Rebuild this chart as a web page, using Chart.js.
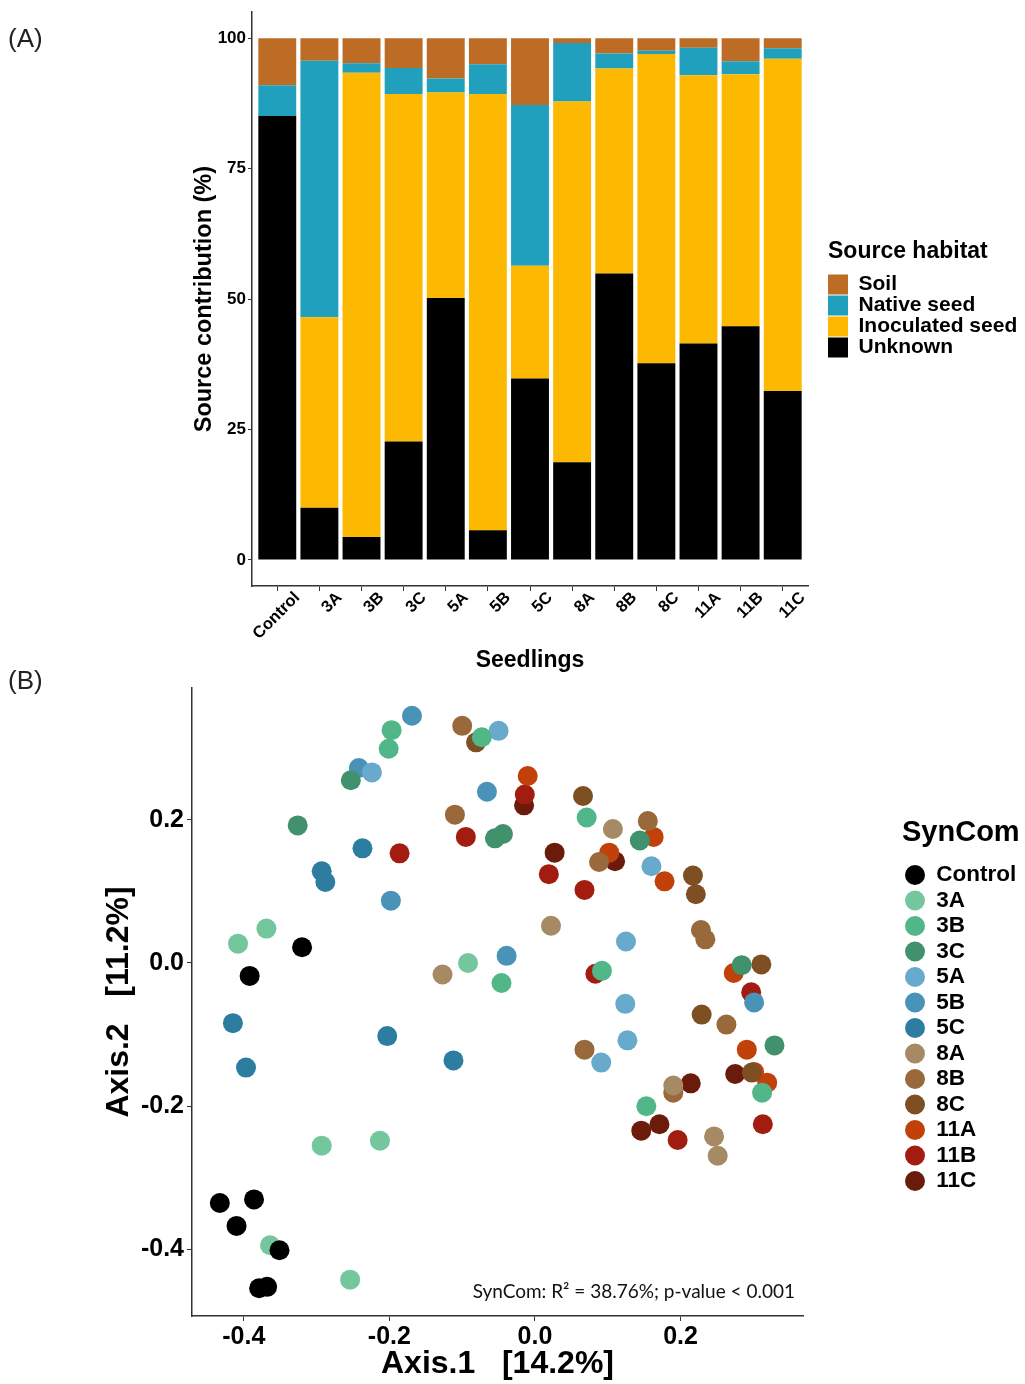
<!DOCTYPE html>
<html>
<head>
<meta charset="utf-8">
<script src="https://cdn.jsdelivr.net/npm/chart.js@4.4.1/dist/chart.umd.min.js"></script>
<style>
html,body{margin:0;padding:0;background:#fff;}
body{width:1025px;height:1384px;position:relative;overflow:hidden;font-family:"Liberation Sans",Arial,sans-serif;}
.wrap{position:absolute;left:0;width:1025px;}
#wrapA{top:0;height:680px;}
#wrapB{top:660px;height:724px;}
.panel-label{position:absolute;left:8px;font-size:26px;line-height:26px;color:#222;font-family:"Liberation Sans",Arial,sans-serif;}
</style>
</head>
<body>
<div class="wrap" id="wrapA"><canvas id="chartA" width="1025" height="680"></canvas></div>
<div class="wrap" id="wrapB"><canvas id="chartB" width="1025" height="724"></canvas></div>
<div class="panel-label" style="top:25px">(A)</div>
<div class="panel-label" style="top:667px">(B)</div>
<script>
// ---------- Panel A data ----------
const seedlings  = ['Control','3A','3B','3C','5A','5B','5C','8A','8B','8C','11A','11B','11C'];
const unknown    = [85.1,10.0, 4.4,22.7,50.2, 5.7,34.8,18.7,54.9,37.7,41.5,44.8,32.4];
const inoculated = [ 0.0,36.5,89.0,66.6,39.4,83.6,21.6,69.2,39.3,59.3,51.4,48.3,63.7];
const nativeSeed = [ 5.9,49.2, 1.8, 5.0, 2.7, 5.7,30.8,11.2, 2.9, 0.6, 5.3, 2.5, 2.0];
const soil       = [ 9.0, 4.3, 4.8, 5.7, 7.7, 5.0,12.8, 0.9, 2.9, 2.4, 1.8, 4.4, 1.9];
const yTicksA    = [0,25,50,75,100];

// ---------- Panel B data (Axis.1, Axis.2) ----------
const groups = ['Control','3A','3B','3C','5A','5B','5C','8A','8B','8C','11A','11B','11C'];
const groupColors = ['#000000','#74C69D','#52B788','#40916C','#67AACB','#4A93B8','#2C7DA0',
                     '#A68A64','#99683B','#7F4F24','#C2400A','#A21D10','#6A1B0C'];
const ptsControl = [[-0.320,0.022],[-0.392,-0.018],[-0.433,-0.335],[-0.386,-0.330],[-0.410,-0.367],[-0.351,-0.401],[-0.379,-0.454],[-0.368,-0.452]];
const pts3A  = [[-0.369,0.048],[-0.408,0.027],[-0.092,0.000],[-0.293,-0.255],[-0.213,-0.248],[-0.364,-0.394],[-0.254,-0.442]];
const pts3B  = [[-0.197,0.325],[-0.201,0.299],[-0.073,0.315],[0.071,0.203],[-0.046,-0.028],[0.092,-0.011],[0.312,-0.181],[0.153,-0.200]];
const pts3C  = [[-0.253,0.255],[-0.326,0.192],[-0.055,0.174],[-0.044,0.180],[0.144,0.171],[0.284,-0.003],[0.329,-0.115]];
const pts5A  = [[-0.224,0.266],[-0.050,0.324],[0.160,0.135],[0.125,0.030],[0.124,-0.057],[0.127,-0.108],[0.091,-0.139]];
const pts5B  = [[-0.169,0.345],[-0.242,0.272],[-0.066,0.239],[-0.198,0.087],[-0.039,0.010],[0.301,-0.055]];
const pts5C  = [[-0.237,0.160],[-0.293,0.128],[-0.288,0.113],[-0.415,-0.084],[-0.397,-0.146],[-0.203,-0.102],[-0.112,-0.136]];
const pts8A  = [[-0.127,-0.016],[0.107,0.187],[0.022,0.052],[0.190,-0.171],[0.246,-0.242],[0.251,-0.269]];
const pts8B  = [[-0.100,0.331],[-0.110,0.207],[0.155,0.198],[0.088,0.141],[0.228,0.046],[0.234,0.033],[0.263,-0.086],[0.068,-0.121],[0.190,-0.181]];
const pts8C  = [[-0.081,0.308],[0.066,0.233],[0.217,0.122],[0.221,0.096],[0.311,-0.002],[0.229,-0.072],[0.298,-0.153]];
const pts11A = [[-0.010,0.261],[0.163,0.176],[0.102,0.154],[0.178,0.114],[0.273,-0.014],[0.291,-0.121],[0.301,-0.152],[0.319,-0.167]];
const pts11B = [[-0.095,0.176],[-0.186,0.153],[-0.014,0.235],[0.019,0.124],[0.068,0.102],[0.083,-0.015],[0.297,-0.041],[0.196,-0.247],[0.313,-0.225]];
const pts11C = [[-0.015,0.220],[0.027,0.154],[0.110,0.142],[0.275,-0.155],[0.214,-0.168],[0.146,-0.234],[0.171,-0.225]];
const groupPoints = [ptsControl,pts3A,pts3B,pts3C,pts5A,pts5B,pts5C,pts8A,pts8B,pts8C,pts11A,pts11B,pts11C];
const xTicksB = [-0.4,-0.2,0.0,0.2];
const yTicksB = [-0.4,-0.2,0.0,0.2];
const statText = 'SynCom: R\u00B2 = 38.76%; p-value < 0.001';

// ---------- common ----------
const F = '"Liberation Sans", Arial, Helvetica, sans-serif';
Chart.defaults.font.family = F;
Chart.defaults.color = '#000';

const legendShift = {
  id: 'legendShift',
  afterLayout(chart, args, opts) {
    const lg = chart.legend;
    if (!lg || opts.left == null) return;
    lg.left = opts.left;
    lg.right = chart.width;
    lg.width = lg.right - lg.left;
  }
};

const statLabel = {
  id: 'statLabel',
  afterDatasetsDraw(chart, args, opts) {
    const {ctx, chartArea} = chart;
    ctx.save();
    ctx.font = '19px Lato, "Open Sans", sans-serif';
    ctx.fillStyle = '#111';
    ctx.textAlign = 'right';
    ctx.textBaseline = 'middle';
    ctx.fillText(opts.text, chartArea.right - 8, chartArea.bottom - 24);
    ctx.restore();
  }
};

const axisLine = {display: true, color: '#333', width: 1.5};

// ---------- Panel A ----------
new Chart(document.getElementById('chartA'), {
  type: 'bar',
  data: {
    datasets: [
      {label: 'Unknown',         data: unknown.map((v, i) => ({x: i, y: v})),    backgroundColor: '#000000'},
      {label: 'Inoculated seed', data: inoculated.map((v, i) => ({x: i, y: v})), backgroundColor: '#FDB801'},
      {label: 'Native seed',     data: nativeSeed.map((v, i) => ({x: i, y: v})), backgroundColor: '#21A0BE'},
      {label: 'Soil',            data: soil.map((v, i) => ({x: i, y: v})),       backgroundColor: '#BC6C25'}
    ]
  },
  options: {
    responsive: false, animation: false, devicePixelRatio: 1,
    layout: {padding: {left: 190, top: 10, right: 67, bottom: 0}},
    datasets: {bar: {barPercentage: 0.9, categoryPercentage: 1.0, borderWidth: 0}},
    scales: {
      x: {
        type: 'linear', stacked: true, min: -0.6, max: 12.6, offset: false,
        afterBuildTicks: s => { s.ticks = seedlings.map((_, i) => ({value: i})); },
        afterFit: s => { s.height = 94; },
        grid: {display: true, drawOnChartArea: false, drawTicks: true, tickLength: 5, color: '#333', offset: false},
        border: axisLine,
        ticks: {autoSkip: false, maxRotation: 45, minRotation: 45, padding: -3, labelOffset: 20, color: '#000',
                font: {family: F, size: 16.5, weight: 'bold'},
                callback: v => seedlings[v] !== undefined ? seedlings[v] : ''},
        title: {display: true, text: 'Seedlings', color: '#000',
                font: {family: F, size: 23, weight: 'bold'}, padding: {top: 0, bottom: 6}}
      },
      y: {
        type: 'linear', stacked: true, min: -5, max: 105,
        afterBuildTicks: s => { s.ticks = yTicksA.map(v => ({value: v})); },
        afterFit: s => { s.width = 62; },
        grid: {display: true, drawOnChartArea: false, drawTicks: true, tickLength: 4, color: '#333'},
        border: axisLine,
        ticks: {padding: 2, color: '#000', font: {family: F, size: 17, weight: 'bold'}},
        title: {display: true, text: 'Source contribution (%)', color: '#000',
                font: {family: F, size: 23.5, weight: 'bold'}, padding: {top: 0, bottom: 0}}
      }
    },
    plugins: {
      legend: {
        position: 'right', reverse: true, fullSize: false, maxWidth: 150, align: 'center',
        title: {display: true, text: 'Source habitat', position: 'start', color: '#000',
                font: {family: F, size: 23, weight: 'bold'}, padding: {top: 0, bottom: 6}},
        labels: {boxWidth: 20, boxHeight: 20, padding: 0, color: '#000',
                 font: {family: F, size: 21, weight: 'bold'}}
      },
      tooltip: {enabled: false},
      legendShift: {left: 828}
    }
  },
  plugins: [legendShift]
});

// ---------- Panel B ----------
new Chart(document.getElementById('chartB'), {
  type: 'scatter',
  data: {
    datasets: groups.map((g, i) => ({
      label: g,
      data: groupPoints[i].map(p => ({x: p[0], y: p[1]})),
      backgroundColor: groupColors[i],
      borderColor: groupColors[i],
      borderWidth: 0,
      pointRadius: 10,
      pointHoverRadius: 10
    }))
  },
  options: {
    responsive: false, animation: false, devicePixelRatio: 1,
    layout: {padding: {left: 100, top: 28, right: 122, bottom: 0}},
    scales: {
      x: {
        type: 'linear', min: -0.4712, max: 0.3682,
        afterBuildTicks: s => { s.ticks = xTicksB.map(v => ({value: v})); },
        afterFit: s => { s.height = 68; },
        grid: {display: true, drawOnChartArea: false, drawTicks: true, tickLength: 5, color: '#333'},
        border: axisLine,
        ticks: {padding: 1, color: '#000', font: {family: F, size: 25, weight: 'bold'},
                callback: v => Number(v).toFixed(1)},
        title: {display: true, text: 'Axis.1   [14.2%]', color: '#000',
                font: {family: F, size: 32, weight: 'bold'}, padding: {top: 0, bottom: 1}}
      },
      y: {
        type: 'linear', min: -0.4927, max: 0.3838,
        afterBuildTicks: s => { s.ticks = yTicksB.map(v => ({value: v})); },
        afterFit: s => { s.width = 92; },
        grid: {display: true, drawOnChartArea: false, drawTicks: true, tickLength: 5, color: '#333'},
        border: axisLine,
        ticks: {padding: 3, color: '#000', font: {family: F, size: 25, weight: 'bold'},
                callback: v => Number(v).toFixed(1)},
        title: {display: true, text: 'Axis.2   [11.2%]', color: '#000',
                font: {family: F, size: 32, weight: 'bold'}, padding: {top: 0, bottom: 0}}
      }
    },
    plugins: {
      legend: {
        position: 'right', fullSize: false, maxWidth: 100, align: 'center',
        title: {display: true, text: 'SynCom', position: 'start', color: '#000',
                font: {family: F, size: 29, weight: 'bold'}, padding: {top: 9.75, bottom: 7.45}},
        labels: {usePointStyle: true, pointStyle: 'circle', pointStyleWidth: 20, boxHeight: 14.14,
                 padding: 3, color: '#000', font: {family: F, size: 22.5, weight: 'bold'}}
      },
      tooltip: {enabled: false},
      legendShift: {left: 902},
      statLabel: {text: statText}
    }
  },
  plugins: [legendShift, statLabel]
});
</script>
</body>
</html>
